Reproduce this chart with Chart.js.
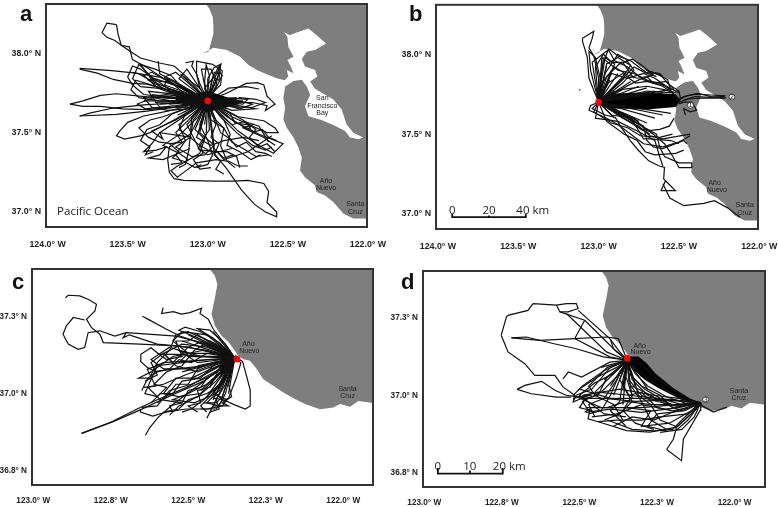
<!DOCTYPE html>
<html>
<head>
<meta charset="utf-8">
<title>Tracks</title>
<script src="https://cdn.jsdelivr.net/npm/chart.js@4"></script>
<style>
  html, body { margin: 0; padding: 0; background: #fff; }
  #wrap { position: relative; width: 778px; height: 507px; overflow: hidden; }
  canvas { position: absolute; }
  .tag { position: absolute; font: bold 22px "Liberation Sans", sans-serif; color: #111; line-height: 24px; }
</style>
</head>
<body>
<div id="wrap">
  <canvas id="mapA" width="389" height="254" style="left:0;top:0"></canvas>
  <canvas id="mapB" width="389" height="254" style="left:389px;top:0"></canvas>
  <canvas id="mapC" width="389" height="253" style="left:0;top:254px"></canvas>
  <canvas id="mapD" width="389" height="253" style="left:389px;top:254px"></canvas>
  <div class="tag" style="left:20px;top:2px">a</div>
  <div class="tag" style="left:409px;top:2px">b</div>
  <div class="tag" style="left:12px;top:270px">c</div>
  <div class="tag" style="left:401px;top:270px">d</div>
</div>
<script>
// all positions are [degrees W, degrees N]
const bigTicksX = [124, 123.5, 123, 122.5, 122];
const bigLabelsX = ["124.0° W", "123.5° W", "123.0° W", "122.5° W", "122.0° W"];
const bigTicksY = [38, 37.5, 37];
const bigLabelsY = ["38.0° N", "37.5° N", "37.0° N"];
const smallTicksX = [123, 122.75, 122.5, 122.25, 122];
const smallLabelsX = ["123.0° W", "122.8° W", "122.5° W", "122.3° W", "122.0° W"];
const smallTicksY = [37.25, 37, 36.75];
const smallLabelsY = ["37.3° N", "37.0° N", "36.8° N"];

const landBig = [
  [123.012,38.33],[123.012,38.311],[122.99,38.28],[122.969,38.228],[122.965,38.176],[122.965,38.124],[122.981,38.062],[122.996,38.01],[123.031,37.999],
  [122.965,38.035],[122.881,38.02],[122.798,37.978],[122.746,37.926],[122.694,37.895],[122.632,37.868],[122.569,37.843],[122.507,37.827],[122.517,37.791],
  [122.528,37.718],[122.517,37.656],[122.528,37.583],[122.507,37.531],[122.465,37.469],[122.434,37.406],[122.413,37.344],[122.424,37.261],[122.393,37.219],
  [122.33,37.167],[122.32,37.126],[122.268,37.105],[122.216,37.063],[122.153,36.99],[122.091,36.959],[121.98,36.959],[121.98,38.33]
];
const bay = [
  [122.528,37.822],[122.497,37.854],[122.507,37.895],[122.465,37.874],[122.486,37.926],[122.503,37.958],[122.465,37.978],[122.497,38.041],[122.503,38.103],
  [122.524,38.134],[122.49,38.114],[122.445,38.13],[122.372,38.155],[122.32,38.114],[122.262,38.062],[122.33,38.02],[122.382,38.01],[122.413,37.964],
  [122.393,37.916],[122.33,37.895],[122.316,37.854],[122.361,37.822],[122.33,37.777],[122.268,37.739],[122.216,37.708],[122.164,37.646],[122.133,37.552],
  [122.091,37.5],[122.029,37.469],[122.06,37.458],[122.112,37.469],[122.143,37.51],[122.216,37.548],[122.299,37.583],[122.372,37.604],[122.393,37.666],
  [122.361,37.739],[122.382,37.791],[122.413,37.833],[122.465,37.825],[122.517,37.791]
];
const landSmall = [
  [122.43,37.41],[122.43,37.402],[122.414,37.381],[122.406,37.354],[122.414,37.31],[122.425,37.257],[122.414,37.219],[122.392,37.186],[122.371,37.168],
  [122.349,37.138],[122.339,37.122],[122.322,37.111],[122.301,37.106],[122.279,37.079],[122.258,37.046],[122.226,37.025],[122.193,37.003],[122.156,36.982],
  [122.123,36.966],[122.075,36.949],[122.032,36.955],[122.01,36.966],[121.978,36.957],[121.951,36.976],[121.9,36.969],[121.9,37.41]
];

const startAB = [123, 37.7];
const startC = [122.35, 37.115];
const startD = [122.346, 37.113];
const endD = [122.109, 36.976];
const S = startAB, O = startC, R = startD, E = endD;

const coreA = [[123.2,37.73],[123.07,37.75],[123,37.76],[122.9,37.73],[122.8,37.68],[122.92,37.65],[123,37.63],[123.08,37.66],[123.2,37.70]];
const tracksA = [
  [[123.57,38.18],[123.63,38.19],[123.64,38.17],[123.66,38.13],[123.63,38.10],[123.58,38.08],[123.54,38.05],[123.49,38.04],[123.48,38.0],[123.47,37.96],[123.38,37.91],[123.26,37.83],[123.13,37.76],S],
  [[123.57,38.18],[123.56,38.12],[123.54,38.05],[123.48,38.01],[123.42,37.97],[123.31,37.94],[123.21,37.92],[123.13,37.85],S],
  [[123.80,37.905],[123.6,37.89],[123.45,37.875],[123.3,37.85],[123.2,37.8],S],
  [[123.80,37.90],[123.69,37.875],[123.59,37.835],[123.47,37.81],[123.38,37.805],[123.26,37.77],S],
  [[123.86,37.68],[123.78,37.70],[123.67,37.735],[123.57,37.745],[123.38,37.725],[123.21,37.715],S],
  [[123.86,37.68],[123.78,37.665],[123.67,37.665],[123.53,37.65],[123.38,37.645],[123.21,37.66],S],
  [[123.80,37.605],[123.57,37.615],[123.38,37.635],[123.17,37.665],S],
  [[123.80,37.605],[123.73,37.625],[123.59,37.655],[123.40,37.675],[123.23,37.685],S],
  [S,[123.25,37.635],[123.40,37.605],[123.50,37.565],[123.55,37.51],[123.57,37.48],[123.52,37.46],[123.42,37.48],[123.36,37.50],[123.22,37.575],S],
  [S,[123.11,37.49],[123.24,37.41],[123.25,37.33],[123.24,37.25],[123.21,37.21],[123.15,37.20],[122.96,37.195],[122.84,37.195],[122.75,37.20],[122.65,37.18],[122.62,37.13],[122.63,37.06],[122.57,37.0],[122.57,36.97],[122.64,37.0],[122.71,37.05],[122.79,37.14],[122.88,37.27],[122.96,37.37],S],
  [S,[123.01,37.49],[123.05,37.37],[123.15,37.31],[123.19,37.29],[123.23,37.26],[123.19,37.22],[123.15,37.25],[123.07,37.31],[122.95,37.33],[122.87,37.32],[122.81,37.29],[122.75,37.29]],
  [S,[122.88,37.75],[122.76,37.81],[122.69,37.815],[122.65,37.80],[122.63,37.73],[122.58,37.68],[122.61,37.66],[122.64,37.64],[122.63,37.67],[122.72,37.69],[122.85,37.69],S],
  [S,[122.87,37.78],[122.76,37.79],[122.68,37.775]],
  [S,[122.84,37.575],[122.68,37.49],[122.53,37.43],[122.59,37.37],[122.70,37.43],[122.81,37.51],S],
  [S,[122.81,37.60],[122.65,37.575],[122.58,37.53],[122.56,37.50],[122.63,37.50],[122.73,37.545],[122.85,37.60],S],
  [[123.14,37.94],[123.09,37.95],[123.10,37.92],[123.07,37.87],[123.05,37.81],S],
  [S,[123.05,37.78],[123.07,37.87],[123.07,37.95],[122.97,37.93],[122.91,37.89],[122.92,37.80],[122.97,37.75],S],
  [S,[122.98,37.80],[122.96,37.88],[122.93,37.87],[122.98,37.76],S],
  [S,[123.02,37.82],[123.01,37.93],[122.99,37.86],[123.0,37.76],S],
  [S,[122.95,37.79],[122.93,37.89],[122.91,37.86],[122.96,37.76],S],
  [S,[123.03,37.85],[123.04,37.90],[122.98,37.90],[122.95,37.82],S],
  [S,[123.20,37.82],[123.30,37.87],[123.31,37.95]],
  [S,[123.25,37.78],[123.42,37.90],[123.47,37.92],[123.50,37.85],[123.47,37.80],[123.40,37.74],[123.25,37.72],S],
  [S,[123.15,37.74],[123.35,37.80],[123.45,37.83],[123.48,37.77],[123.43,37.72],[123.30,37.70],S],
  [S,[123.2,37.80],[123.35,37.88],[123.40,37.86],[123.31,37.78],[123.15,37.72],S],
  [S,[123.25,37.84],[123.27,37.80],[123.1,37.74],S],
  [S,[123.12,37.68],[123.34,37.72],[123.44,37.68],[123.39,37.65],[123.2,37.67],S],
  [S,[123.18,37.74],[123.37,37.76],[123.30,37.66],[123.1,37.66],S],
  [S,[123.13,37.82],[123.20,37.88],[123.27,37.85],[123.15,37.75],S],
  [S,[123.10,37.80],[123.17,37.87],[123.05,37.78],[123.13,37.90],[123.18,37.84],S],
  [S,[123.18,37.79],[123.33,37.84],[123.37,37.83],[123.22,37.75],S],
  [S,[122.85,37.71],[122.72,37.68],[122.8,37.65],S],
  [S,[122.9,37.72],[122.75,37.71],[122.78,37.68],S],
  [S,[122.86,37.68],[122.7,37.65],[122.85,37.64],S],
  [S,[123.09,37.58],[123.11,37.47],[123.12,37.38],[123.14,37.3],[123.18,37.28]],
  [S,[123.10,37.60],[123.11,37.47],[123.05,37.42],[122.98,37.38],[122.88,37.38],[122.82,37.35],[122.8,37.28]],
  [S,[123.15,37.60],[123.30,37.50],[123.35,37.43],[123.40,37.38],[123.32,37.39],[123.26,37.41],[123.30,37.36],[123.37,37.34],[123.28,37.33],[123.11,37.40]],
  [S,[123.20,37.58],[123.35,37.51],[123.28,37.46],[123.30,37.50],[123.10,37.47]],
  [S,[123.05,37.55],[123.0,37.45],[122.97,37.36],[123.0,37.30],[123.07,37.28]],
  [S,[122.98,37.58],[122.90,37.53],[122.85,37.44],[122.78,37.40],[122.70,37.35],[122.62,37.36]],
  [S,[122.95,37.58],[122.9,37.53],[122.92,37.42],[122.88,37.32],[122.83,37.28]],
  [S,[122.92,37.60],[122.82,37.50],[122.72,37.42],[122.64,37.39],[122.60,37.41]],
  [S,[123.03,37.58],[123.07,37.47],[122.98,37.42],[122.90,37.45],[122.78,37.47],[122.68,37.45]],
  [S,[122.88,37.6],[122.75,37.52],[122.72,37.55],[122.78,37.53],[122.65,37.47],[122.58,37.42]],
  [S,[123.14,37.62],[123.18,37.52],[123.11,37.47],[123.2,37.41],[123.1,37.35],[123.02,37.36],[122.96,37.42],[123.05,37.5],S],
  [S,[122.97,37.50],[122.96,37.40],[122.90,37.33],[122.75,37.38],[122.6,37.48]],
  [S,[123.06,37.60],[123.16,37.5],[123.28,37.42],[123.18,37.37],[123.12,37.33]],
  [S,[122.93,37.62],[122.85,37.55],[122.77,37.57],[122.68,37.54],[122.62,37.44]],
  [S,[123.13,37.55],[123.08,37.45],[123.05,37.39],[122.93,37.38],[122.85,37.4]],
  [S,[123.12,37.58],[123.2,37.5],[123.16,37.44],[123.24,37.43],[123.18,37.38],[123.22,37.34],[123.15,37.32],[123.08,37.28],[123.04,37.3]],
  [S,[122.95,37.55],[122.98,37.47],[122.93,37.43],[122.96,37.36],[122.92,37.32],[122.95,37.27],[122.9,37.24]],
  [S,[122.86,37.62],[122.83,37.56],[122.75,37.55],[122.72,37.5],[122.66,37.52],[122.62,37.47],[122.57,37.45]],
  [S,[122.92,37.5],[122.86,37.46],[122.82,37.41],[122.76,37.44],[122.7,37.38],[122.64,37.37],[122.6,37.35]],
  [S,[123.08,37.52],[123.02,37.46],[123.06,37.4],[123.0,37.36],[122.94,37.38],[122.9,37.34],[122.84,37.36]],
  [S,[123.22,37.62],[123.3,37.55],[123.38,37.52],[123.42,37.45],[123.36,37.41],[123.39,37.36],[123.34,37.38]],
  [S,[123.28,37.6],[123.36,37.58],[123.43,37.53],[123.37,37.47],[123.3,37.44],[123.22,37.43]],
  [S,[123.18,37.55],[123.14,37.45],[123.2,37.36],[123.16,37.31],[123.23,37.3]],
  [S,[122.99,37.52],[123.05,37.43],[123.03,37.37],[123.09,37.33],[123.05,37.27],[122.98,37.28]],
  [S,[122.78,37.58],[122.7,37.52],[122.74,37.47],[122.68,37.41],[122.63,37.43],[122.58,37.38]],
  [S,[122.9,37.58],[122.86,37.49],[122.88,37.42],[122.8,37.38],[122.73,37.33],[122.67,37.36]],
  [S,[123.12,37.77],[123.26,37.82],[123.36,37.83],[123.43,37.87],[123.47,37.88]],
  [S,[123.22,37.77],[123.32,37.78],[123.42,37.79],[123.47,37.84],[123.43,37.93],[123.38,37.88],[123.3,37.79]],
  [S,[123.1,37.72],[123.26,37.74],[123.4,37.72],[123.35,37.66],[123.25,37.64],[123.12,37.65],S],
  [S,[123.15,37.77],[123.23,37.86],[123.33,37.9],[123.42,37.93],[123.34,37.82],[123.2,37.76],S],
  [S,[123.02,37.78],[122.97,37.84],[122.94,37.9],[122.92,37.93],[122.96,37.91],[123.0,37.84],S],
  [S,[122.97,37.85],[122.93,37.83],[122.92,37.92],[122.95,37.86],S],
  [S,[122.9,37.68],[122.8,37.72],[122.7,37.71],[122.64,37.69],[122.72,37.66],[122.82,37.66],S],
  [S,[123.35,37.74],S,[123.3,37.68],S,[123.25,37.76],S,[123.2,37.66],S,[123.4,37.70],S,[122.8,37.66],S,[122.75,37.69],S,[122.82,37.72],S,[123.15,37.63],S,[123.1,37.6],S,[122.9,37.62],S,[122.88,37.65],S,[123.28,37.72],S,[123.22,37.70],S,[123.18,37.69],S,[123.3,37.73],S,[123.15,37.71],S,[122.84,37.70],S,[123.02,37.55],S,[122.97,37.6],S,[123.06,37.5],S,[123.24,37.68],S,[122.78,37.7],S,[123.12,37.72],S,[123.33,37.69],S,[123.19,37.61],S,[122.87,37.60]]
];

const bandB = [[123,37.7],[122.9,37.755],[122.7,37.762],[122.52,37.75],[122.49,37.71],[122.52,37.67],[122.7,37.655],[122.9,37.66]];
const tracksB = [
  [S,[123.06,37.85],[123.07,37.98],[123.10,38.08],[123.10,38.10],[123.07,38.12],[123.03,38.145],[123.04,38.10],[123.06,38.04],[123.03,37.99],[123.0,37.85],S],
  [S,[123.05,37.9],[123.06,38.02],[123.02,37.98],[122.99,37.85],S],
  [S,[123.04,37.95],[122.95,38.02],[122.93,38.03],[122.88,37.99],[122.80,37.96],[122.75,37.92],[122.70,37.885],[122.62,37.875],[122.56,37.81],[122.50,37.77],[122.49,37.72]],
  [S,[122.98,37.92],[122.94,38.03],[122.90,37.96],[122.82,37.92],[122.72,37.84],[122.62,37.82],[122.50,37.76]],
  [S,[122.95,37.86],[122.87,37.94],[122.79,37.97],[122.73,37.93],[122.68,37.89],[122.62,37.88],[122.60,37.86]],
  [S,[122.98,37.98],[122.88,37.9],[122.78,37.88],[122.68,37.83],[122.58,37.80],[122.5,37.72]],
  [S,[122.92,37.88],[122.82,37.85],[122.72,37.88],[122.65,37.85],[122.55,37.78],S],
  [S,[122.9,37.8],[122.78,37.92],[122.72,37.89],[122.64,37.86]],
  [S,[122.85,37.86],[122.80,37.93],[122.88,37.98],[122.95,37.94],S],
  [S,[122.85,37.78],[122.7,37.80],[122.6,37.78],[122.52,37.76]],
  [S,[122.9,37.94],[122.96,37.98],[122.98,37.85],S],
  [S,[122.7,37.77],[122.55,37.76]],
  [S,[122.98,37.82],[122.9,37.92],[122.82,37.87],[122.76,37.85],[122.7,37.86],[122.66,37.82],[122.58,37.83],[122.53,37.78]],
  [S,[122.94,37.82],[122.85,37.88],[122.77,37.82],[122.7,37.83],[122.6,37.8],[122.52,37.74]],
  [S,[122.96,37.88],[122.88,38.0],[122.83,37.97],[122.78,37.9],[122.85,37.82],S],
  [S,[123.02,37.92],[122.97,38.0],[122.92,37.95],[122.85,37.95],[122.78,37.85]],
  [S,[122.9,37.76],[122.75,37.84],[122.66,37.87],[122.7,37.9],[122.64,37.88],[122.57,37.84],[122.55,37.77]],
  [S,[122.95,37.93],S,[122.92,37.9],S,[122.88,37.88],S,[122.84,37.85],S,[122.8,37.83],S,[122.75,37.8],S,[122.7,37.79],S,[122.65,37.77],S,[122.6,37.76],S,[122.97,37.98],S,[122.93,37.84],S,[122.9,37.77],S],
  [S,[122.85,37.62],S,[122.8,37.6],S,[122.78,37.56],S,[122.75,37.58],S,[122.7,37.57],S,[122.65,37.6],S,[122.6,37.62],S,[122.55,37.63],S,[122.9,37.6],S,[122.72,37.52],S,[122.68,37.5],S],
  [S,[123.04,37.66],[122.96,37.62],[122.896,37.604],[122.865,37.552],[122.802,37.458],[122.75,37.396],[122.688,37.333],[122.626,37.302],[122.59,37.292],[122.595,37.22],[122.584,37.208],[122.611,37.146],[122.522,37.146],[122.584,37.208]],
  [[122.6,37.19],[122.557,37.10],[122.47,37.052],[122.345,37.067],[122.279,37.083],[122.2,37.04],[122.12,36.98]],
  [S,[122.85,37.6],[122.75,37.55],[122.68,37.49],[122.6,37.47],[122.43,37.5]],
  [S,[122.8,37.6],[122.66,37.5],[122.59,37.44],[122.55,37.38],[122.51,37.31],[122.50,37.29],[122.42,37.29],[122.42,37.32],[122.5,37.32],[122.59,37.36],[122.62,37.42],[122.64,37.5],S],
  [S,[122.88,37.63],[122.72,37.55],[122.70,37.46],[122.66,37.42],[122.6,37.41],[122.47,37.46],[122.45,37.44]],
  [S,[122.9,37.66],[122.78,37.57],[122.72,37.47],[122.68,37.47],[122.55,37.46],[122.5,37.44]],
  [S,[123.05,37.68],[123.06,37.65],[122.95,37.60],[122.88,37.56],[122.80,37.5],[122.72,37.44],[122.6,37.42],[122.5,37.45],[122.43,37.49]],
  [S,[123.03,37.64],[122.92,37.57],[122.82,37.54],[122.74,37.49],[122.62,37.48],[122.54,37.50]],
  [S,[122.92,37.62],[122.78,37.6],[122.7,37.52],[122.62,37.53],[122.56,37.55],[122.53,37.6]],
  [S,[123.02,37.6],[122.88,37.58],[122.76,37.52],[122.65,37.46],[122.62,37.36],[122.6,37.3]],
  [S,[122.95,37.58],[122.84,37.5],[122.76,37.46],[122.71,37.39],[122.65,37.37],[122.52,37.38],[122.47,37.4]],
  [[123.114,37.775],[123.12,37.78]],
  [[122.5,37.72],[122.47,37.735],[122.40,37.75],[122.3,37.745],[122.21,37.74]],
  [[122.5,37.70],[122.44,37.72],[122.35,37.725],[122.21,37.725]],
  [[122.5,37.715],[122.45,37.74],[122.38,37.755],[122.3,37.735],[122.21,37.73]],
  [[122.48,37.71],[122.4,37.735],[122.3,37.73],[122.22,37.735]],
  [[122.5,37.69],[122.47,37.70],[122.42,37.7],[122.39,37.65],[122.43,37.64],[122.47,37.66],[122.46,37.62]]
];

const coreC = [[122.345,37.12],[122.385,37.125],[122.4,37.085],[122.395,37.055],[122.37,37.075]];
const tracksC = [
  [[122.896,37.31],[122.887,37.318],[122.85,37.316],[122.823,37.305],[122.796,37.289],[122.801,37.267],[122.828,37.24],[122.812,37.213],[122.785,37.192],[122.774,37.165],[122.656,37.16],[122.538,37.154],[122.44,37.14],O],
  [[122.834,37.238],[122.871,37.246],[122.893,37.219],[122.904,37.192],[122.887,37.16],[122.855,37.143],[122.834,37.149],[122.823,37.197],[122.785,37.203],[122.737,37.186],[122.70,37.197],[122.538,37.186],[122.44,37.16],O],
  [[122.70,37.197],[122.71,37.18],[122.69,37.19],[122.6,37.16],[122.5,37.15],O],
  [[122.581,37.278],[122.586,37.259],[122.548,37.265],[122.522,37.257],[122.495,37.262],[122.457,37.276],[122.462,37.259],[122.435,37.24],[122.419,37.208],[122.398,37.181],[122.365,37.138],O],
  [[122.648,37.25],[122.629,37.24],[122.57,37.208],[122.527,37.186],[122.45,37.16],O],
  [[122.844,36.871],[122.75,36.907],[122.665,36.95],[122.6,36.98],[122.505,37.02],[122.41,37.073],O],
  [[122.844,36.871],[122.74,36.91],[122.655,36.947],[122.548,36.997],[122.45,37.04],O],
  [[122.638,36.865],[122.624,36.89],[122.597,36.923],[122.548,36.966],[122.462,37.03],O],
  [[122.654,36.95],[122.654,36.94],[122.615,36.927],[122.572,36.94],[122.507,36.95],[122.44,36.95],[122.39,36.96],[122.375,36.98],[122.42,37.0],[122.38,37.05],O],
  [O,[122.325,37.105],[122.31,37.05],[122.30,37.01],[122.30,36.96],[122.316,36.95],[122.354,36.965],[122.386,36.98],[122.42,36.985]],
  [O,[122.33,37.1],[122.345,37.05],[122.37,36.985],[122.39,36.975]],
  [O,[122.39,37.02],[122.42,36.96],[122.44,36.92]],
  [[122.655,37.105],[122.653,37.127],[122.62,37.148],[122.594,37.127],[122.54,37.127],[122.45,37.12],O],
  [[122.655,37.105],[122.63,37.083],[122.605,37.072],[122.55,37.078],[122.45,37.09],O],
  [[122.643,37.02],[122.606,37.025],[122.632,37.078],[122.58,37.1],O],
  [O,[122.40,37.165],[122.46,37.20],[122.51,37.215],[122.53,37.205],[122.47,37.18],[122.39,37.14],O],
  [O,[122.41,37.16],[122.50,37.20],[122.54,37.19],[122.56,37.14],[122.6,37.1],[122.62,37.06]],
  [O,[122.42,37.18],[122.47,37.21],[122.43,37.205],[122.38,37.16],O],
  [O,[122.45,37.14],[122.55,37.12],[122.62,37.07],[122.66,37.05],[122.62,37.05]],
  [O,[122.44,37.11],[122.52,37.10],[122.60,37.09],[122.64,37.0],[122.60,36.99]],
  [O,[122.43,37.09],[122.51,37.06],[122.58,37.03],[122.63,37.02],[122.59,36.98],[122.52,36.97]],
  [O,[122.42,37.06],[122.49,37.03],[122.56,37.01],[122.6,36.96],[122.65,36.955]],
  [O,[122.41,37.04],[122.47,36.99],[122.53,36.96],[122.56,36.93]],
  [O,[122.40,37.03],[122.45,36.98],[122.49,36.95],[122.52,36.94]],
  [O,[122.39,37.04],[122.43,36.99],[122.46,36.96],[122.44,36.94]],
  [O,[122.38,37.03],[122.41,36.98],[122.40,36.95],[122.43,36.94]],
  [O,[122.37,37.05],[122.39,36.99],[122.41,36.97],[122.45,36.97]],
  [O,[122.42,37.13],[122.5,37.13],[122.56,37.15],[122.62,37.11],[122.58,37.08],[122.5,37.08],O],
  [O,[122.44,37.15],[122.52,37.16],[122.58,37.13],[122.54,37.09],[122.47,37.07],O],
  [O,[122.40,37.09],[122.47,37.05],[122.54,37.05],[122.58,37.0],[122.53,36.99],[122.46,37.0],O],
  [O,[122.38,37.08],[122.44,37.03],[122.5,37.0],[122.55,36.98],[122.48,36.97],[122.41,37.0],O],
  [O,[122.37,37.07],[122.40,37.01],[122.44,36.97],[122.40,36.96],[122.38,37.0],O],
  [O,[122.39,37.12],[122.46,37.12],[122.53,37.14],[122.47,37.10],O],
  [O,[122.44,37.13],[122.49,37.1],[122.53,37.11],[122.56,37.08],[122.6,37.07],[122.63,37.05],[122.65,37.01]],
  [O,[122.42,37.1],[122.47,37.08],[122.5,37.03],[122.54,37.03],[122.57,36.99],[122.6,36.97]],
  [O,[122.41,37.07],[122.44,37.05],[122.46,37.02],[122.5,37.01],[122.52,36.97],[122.56,36.96],[122.55,36.94]],
  [O,[122.4,37.08],[122.43,37.02],[122.47,37.01],[122.46,36.97],[122.5,36.96],[122.47,36.94]],
  [O,[122.45,37.17],[122.5,37.15],[122.55,37.1],[122.58,37.13],[122.62,37.1],[122.6,37.06],[122.64,37.04]],
  [O,[122.43,37.17],[122.48,37.14],[122.52,37.09],[122.57,37.07],[122.61,37.03],[122.57,37.02],[122.6,36.99]],
  [O,[122.38,37.07],[122.4,37.03],[122.42,37.01],[122.39,36.98],[122.41,36.95],[122.46,36.95]],
  [O,[122.37,37.03],[122.36,36.99],[122.39,36.97],[122.37,36.96],[122.42,36.96]],
  [O,[122.47,37.19],[122.5,37.17],[122.54,37.17],[122.52,37.12],[122.57,37.11],[122.6,37.13]],
  [O,[122.39,37.03],[122.44,37.0],[122.5,36.98],[122.53,36.95],[122.58,36.94]],
  [O,[122.41,37.1],[122.46,37.05],[122.52,37.04],[122.55,37.0],[122.59,37.0],[122.62,36.97]],
  [O,[122.44,37.19],[122.52,37.2],[122.55,37.17],[122.5,37.13],[122.53,37.1]],
  [O,[122.42,37.2],O,[122.45,37.18],O,[122.5,37.19],O,[122.48,37.17],O,[122.52,37.17],O,[122.46,37.15],O,[122.5,37.12],O,[122.47,37.09],O,[122.52,37.07],O,[122.45,37.06],O,[122.49,37.05],O,[122.43,37.03],O,[122.46,37.01],O,[122.41,37.0],O,[122.44,36.99],O,[122.39,36.99],O,[122.42,36.98],O,[122.37,37.0],O,[122.4,37.05],O,[122.42,37.08],O,[122.38,37.06],O,[122.41,37.11],O,[122.39,37.09],O]
];

const bandD = [[122.346,37.125],[122.31,37.125],[122.285,37.105],[122.255,37.07],[122.2,37.025],[122.145,36.99],[122.115,36.975],[122.17,36.985],[122.24,37.02],[122.29,37.05],[122.325,37.085],[122.34,37.1]];
const tracksD = [
  [[122.752,37.194],[122.735,37.253],[122.73,37.258],[122.666,37.274],[122.649,37.296],[122.574,37.291],[122.563,37.269],[122.536,37.269],[122.504,37.28],[122.51,37.296],[122.542,37.296],[122.574,37.291]],
  [[122.752,37.194],[122.73,37.14],[122.676,37.102],[122.644,37.064],[122.579,37.064],[122.553,37.027],[122.515,37.0],[122.52,36.978],[122.47,37.0]],
  [[122.542,37.264],[122.413,37.14],R],
  [[122.504,37.274],[122.402,37.183],[122.37,37.14],R],
  [[122.483,37.242],[122.515,37.183],[122.402,37.124],R],
  [[122.563,37.269],[122.483,37.242],[122.42,37.18],[122.38,37.14],R],
  [[122.719,37.185],[122.671,37.188],[122.585,37.167],[122.51,37.15],[122.423,37.124],R],
  [[122.719,37.185],[122.628,37.177],[122.515,37.183],[122.413,37.188],[122.375,37.183],[122.359,37.145],R],
  [[122.40,37.18],[122.39,37.15],R],
  [[122.701,37.019],[122.676,37.032],[122.622,37.045],[122.579,37.016],[122.542,37.0],[122.499,36.994],[122.46,37.0]],
  [[122.701,37.019],[122.655,37.005],[122.574,36.994],[122.526,36.994]],
  [[122.553,37.053],[122.536,37.075],[122.493,37.059],[122.402,37.107],R],
  [[122.483,36.946],[122.466,36.956],[122.472,36.924],[122.434,36.913],[122.348,36.886],[122.273,36.881],[122.187,36.897],[122.122,36.956],E],
  [[122.219,36.825],[122.197,36.859],[122.187,36.897],[122.14,36.94],E],
  [[122.219,36.825],[122.171,36.789],[122.165,36.859],[122.111,36.951],E],
  [E,[122.106,36.967],[122.068,36.946],[122.025,36.962]],
  [R,[122.30,37.10],[122.26,37.06],[122.2,37.02],[122.14,36.985],E],
  [R,[122.31,37.08],[122.26,37.04],[122.2,37.005],[122.15,36.98],E],
  [R,[122.32,37.07],[122.28,37.03],[122.22,36.995],[122.16,36.975],E],
  [R,[122.33,37.06],[122.29,37.02],[122.24,36.99],[122.17,36.97],E],
  [R,[122.34,37.05],[122.30,37.0],[122.25,36.98],[122.18,36.965],E],
  [R,[122.40,37.09],[122.46,37.02],[122.51,37.0],[122.52,36.98]],
  [R,[122.38,37.05],[122.42,36.99],[122.47,36.97],[122.45,36.93]],
  [R,[122.36,37.05],[122.37,36.98],[122.40,36.95],[122.35,36.9]],
  [R,[122.34,37.04],[122.30,36.98],[122.27,36.92],[122.22,36.89]],
  [R,[122.33,37.05],[122.28,37.0],[122.2,36.97],[122.12,36.965]],
  [R,[122.42,37.08],[122.49,37.03],[122.52,37.0],[122.43,36.96],[122.3,36.96],E],
  [R,[122.39,37.07],[122.45,37.04],[122.5,37.0],[122.46,36.97],[122.42,36.94],[122.35,36.93]],
  [R,[122.37,37.07],[122.4,37.0],[122.43,36.95],[122.47,36.94]],
  [R,[122.35,37.06],[122.33,37.0],[122.36,36.95],[122.32,36.91],[122.26,36.89]],
  [R,[122.36,37.08],[122.43,37.01],[122.49,36.98],[122.47,36.95]],
  [R,[122.38,37.09],[122.44,37.06],[122.5,37.02],[122.4,36.99],[122.3,36.99],E],
  [R,[122.37,37.09],[122.41,37.06],[122.44,37.0],[122.48,36.99],[122.5,36.96],[122.46,36.95]],
  [R,[122.35,37.08],[122.36,37.03],[122.33,36.98],[122.37,36.94],[122.42,36.92]],
  [R,[122.33,37.07],[122.31,37.0],[122.27,36.97],[122.24,36.92],[122.19,36.9]],
  [R,[122.37,37.05],[122.34,37.0],[122.3,37.01],[122.25,36.96],[122.2,36.95],[122.15,36.96]],
  [R,[122.41,37.09],[122.47,37.03],[122.45,37.0],[122.39,36.97],[122.36,36.92]],
  [[122.11,36.975],[122.2,36.985],[122.32,36.98],[122.42,36.99],[122.5,36.99]],
  [E,[122.18,36.96],[122.3,36.945],[122.40,36.955],[122.48,36.945]],
  [E,[122.2,36.945],[122.26,36.92],[122.33,36.93],[122.39,36.9]],
  [E,[122.16,36.93],[122.2,36.89],[122.26,36.885],[122.33,36.89],[122.41,36.92]],
  [E,[122.15,36.92],[122.19,36.885]],
  [E,[122.13,36.93],[122.17,36.89],[122.24,36.88]],
  [E,[122.22,36.955],[122.3,36.97],[122.38,36.94],[122.46,36.93]],
  [E,[122.25,36.99],[122.34,37.0],[122.44,37.01],[122.52,36.99]],
  [E,[122.18,36.99],[122.26,37.0],[122.37,37.02],[122.49,37.0]],
  [E,[122.16,36.95],[122.25,36.94],[122.28,36.9],[122.22,36.885]],
  [E,[122.14,36.95],[122.21,36.91],[122.3,36.9],[122.27,36.95],[122.35,36.96]],
  [E,[122.19,36.97],[122.27,36.97],[122.35,36.98],[122.41,36.96],[122.48,36.96]],
  [E,[122.15,36.94],[122.24,36.93],[122.3,36.92],[122.38,36.92],[122.44,36.915]],
  [E,[122.2,36.96],[122.24,37.0],[122.3,37.03],[122.34,37.07]],
  [E,[122.17,36.95],[122.22,36.97],[122.27,37.0],[122.33,37.03]],
  [R,[122.38,37.1],R,[122.42,37.05],R,[122.36,37.02],R,[122.32,37.03],R,[122.4,37.03],R,[122.3,37.06],R,[122.45,37.01],R,[122.28,37.02],R,[122.36,36.97],R,[122.43,37.09],R,[122.39,37.0],R,[122.33,36.99],R]
];

const sealAB = [[123, 37.7]];
const sealC = [[122.342, 37.111]];
const sealD = [[122.346, 37.119]];
const dotsB = [[122.428, 37.681], [122.17, 37.733]];
const dotsD = [[122.093, 36.986]];
const scaleB = [[123.911,37.0],[123.911,36.98],[123.682,36.98],[123.682,36.99],[123.682,36.98],[123.453,36.98],[123.453,37.0]];
const scaleD = [[122.956,36.765],[122.956,36.747],[122.853,36.747],[122.853,36.757],[122.853,36.747],[122.747,36.747],[122.747,36.765]];

const bayText = [["San",122.285,37.716],["Francisco",122.285,37.668],["Bay",122.285,37.621]];
const textA = [["Año",122.262,37.196],["Nuevo",122.262,37.151],["Santa",122.079,37.049],["Cruz",122.079,37.001]];
const textB = [["Año",122.278,37.194],["Nuevo",122.264,37.148],["Santa",122.091,37.055],["Cruz",122.091,37.007],["1",122.428,37.681],["2",122.17,37.733]];
const textSmall = [["Año",122.306,37.16],["Nuevo",122.303,37.138],["Santa",121.986,37.014],["Cruz",121.986,36.991]];
const bigTextA = [["Pacific Ocean",123.718,37.001]];
const bigTextB = [["0",123.911,37.022],["20",123.682,37.022],["40 km",123.41,37.022]];
const bigTextD = [["0",122.956,36.769],["10",122.853,36.769],["20 km",122.726,36.769]];

const toPoints = (data) => data.map(([x, y]) => ({ x, y }));
const mapLine = (data, width) => ({ data: toPoints(data), showLine: true, pointRadius: 0, borderColor: "#111", borderWidth: width || 1.2, order: 3 });
const mapShape = (data, color, order) => ({ data: toPoints(data), showLine: true, pointRadius: 0, borderWidth: 0, borderColor: color, backgroundColor: color, fill: "shape", order });
const mapDots = (data, color, radius, order) => ({ data: toPoints(data), pointRadius: radius, pointBackgroundColor: color, pointBorderColor: color === "#fff" ? "#222" : color, pointBorderWidth: color === "#fff" ? 0.8 : 0, order });

// draws frame and place names in map coordinates
const mapText = (small, big) => ({
  id: "mapText",
  afterDraw(chart) {
    const { ctx, chartArea: a, scales: { x, y } } = chart;
    ctx.save();
    ctx.strokeStyle = "#333";
    ctx.lineWidth = 2;
    ctx.strokeRect(a.left, a.top, a.right - a.left, a.bottom - a.top);
    ctx.textAlign = "center";
    ctx.textBaseline = "middle";
    ctx.fillStyle = "#222";
    ctx.font = "7px 'Liberation Sans', sans-serif";
    small.forEach(([t, lon, lat]) => ctx.fillText(t, x.getPixelForValue(lon), y.getPixelForValue(lat)));
    ctx.font = "11.5px 'Open Sans', sans-serif";
    big.forEach(([t, lon, lat]) => ctx.fillText(t, x.getPixelForValue(lon), y.getPixelForValue(lat)));
    ctx.restore();
  }
});

function drawMap(id, cfg) {
  return new Chart(document.getElementById(id), {
    type: "scatter",
    data: { datasets: cfg.datasets },
    options: {
      responsive: false,
      animation: false,
      events: [],
      layout: { padding: { left: 0, top: cfg.box.top, right: cfg.box.right, bottom: 0 } },
      plugins: { legend: { display: false }, tooltip: { enabled: false } },
      scales: {
        x: {
          type: "linear", reverse: true, min: cfg.xRange[1], max: cfg.xRange[0],
          grid: { display: false, drawTicks: false }, border: { display: false },
          afterBuildTicks: (s) => { s.ticks = cfg.ticksX.map((value) => ({ value })); },
          afterFit: (s) => { s.height = cfg.box.bottom; s.paddingLeft = 0; s.paddingRight = 0; },
          ticks: { autoSkip: false, maxRotation: 0, padding: cfg.pad, color: "#222", font: { family: "'Liberation Sans'", size: cfg.fontSize, weight: "bold" }, callback: (v, i) => cfg.labelsX[i] }
        },
        y: {
          type: "linear", min: cfg.yRange[0], max: cfg.yRange[1],
          grid: { display: false, drawTicks: false }, border: { display: false },
          afterBuildTicks: (s) => { s.ticks = cfg.ticksY.map((value) => ({ value })); },
          afterFit: (s) => { s.width = cfg.box.left; s.paddingTop = 0; s.paddingBottom = 0; },
          ticks: { autoSkip: false, padding: 5, color: "#222", font: { family: "'Liberation Sans'", size: cfg.fontSize, weight: "bold" }, callback: (v, i) => cfg.labelsY[i] }
        }
      }
    },
    plugins: [mapText(cfg.small, cfg.big)]
  });
}

drawMap("mapA", {
  box: { left: 46, top: 2, right: 22, bottom: 27 }, pad: 12, fontSize: 8.8,
  xRange: [124.01, 122.006], yRange: [36.906, 38.31],
  ticksX: bigTicksX, labelsX: bigLabelsX, ticksY: bigTicksY, labelsY: bigLabelsY,
  small: bayText.concat(textA), big: bigTextA,
  datasets: [mapDots(sealAB, "#f00", 3.3, 0), ...tracksA.map((t) => mapLine(t)), mapShape(coreA, "#000", 4), mapShape(bay, "#fff", 5), mapShape(landBig, "#7e7e7e", 6)]
});

drawMap("mapB", {
  box: { left: 47, top: 4, right: 20, bottom: 25 }, pad: 12, fontSize: 8.8,
  xRange: [124.012, 122.008], yRange: [36.906, 38.31],
  ticksX: bigTicksX, labelsX: bigLabelsX, ticksY: bigTicksY, labelsY: bigLabelsY,
  small: textB, big: bigTextB,
  datasets: [mapDots(sealAB, "#f00", 3.3, 0), mapDots(dotsB, "#fff", 3, 1), mapLine(scaleB, 1.8), ...tracksB.map((t) => mapLine(t)), mapShape(bandB, "#000", 4), mapShape(bay, "#fff", 5), mapShape(landBig, "#7e7e7e", 6)]
});

drawMap("mapC", {
  box: { left: 32, top: 15, right: 16, bottom: 22 }, pad: 11, fontSize: 8.2,
  xRange: [123.004, 121.904], yRange: [36.704, 37.403],
  ticksX: smallTicksX, labelsX: smallLabelsX, ticksY: smallTicksY, labelsY: smallLabelsY,
  small: textSmall, big: [],
  datasets: [mapDots(sealC, "#f00", 3.3, 0), ...tracksC.map((t) => mapLine(t)), mapShape(coreC, "#000", 4), mapShape(landSmall, "#7e7e7e", 6)]
});

drawMap("mapD", {
  box: { left: 34, top: 17, right: 13, bottom: 20 }, pad: 11, fontSize: 8.2,
  xRange: [123.004, 121.902], yRange: [36.704, 37.401],
  ticksX: smallTicksX, labelsX: smallLabelsX, ticksY: smallTicksY, labelsY: smallLabelsY,
  small: textSmall.concat([["3", 122.093, 36.986]]), big: bigTextD,
  datasets: [mapDots(sealD, "#f00", 3.3, 0), mapDots(dotsD, "#fff", 3, 1), mapLine(scaleD, 1.8), ...tracksD.map((t) => mapLine(t)), mapShape(bandD, "#000", 4), mapShape(landSmall, "#7e7e7e", 6)]
});
</script>
</body>
</html>
